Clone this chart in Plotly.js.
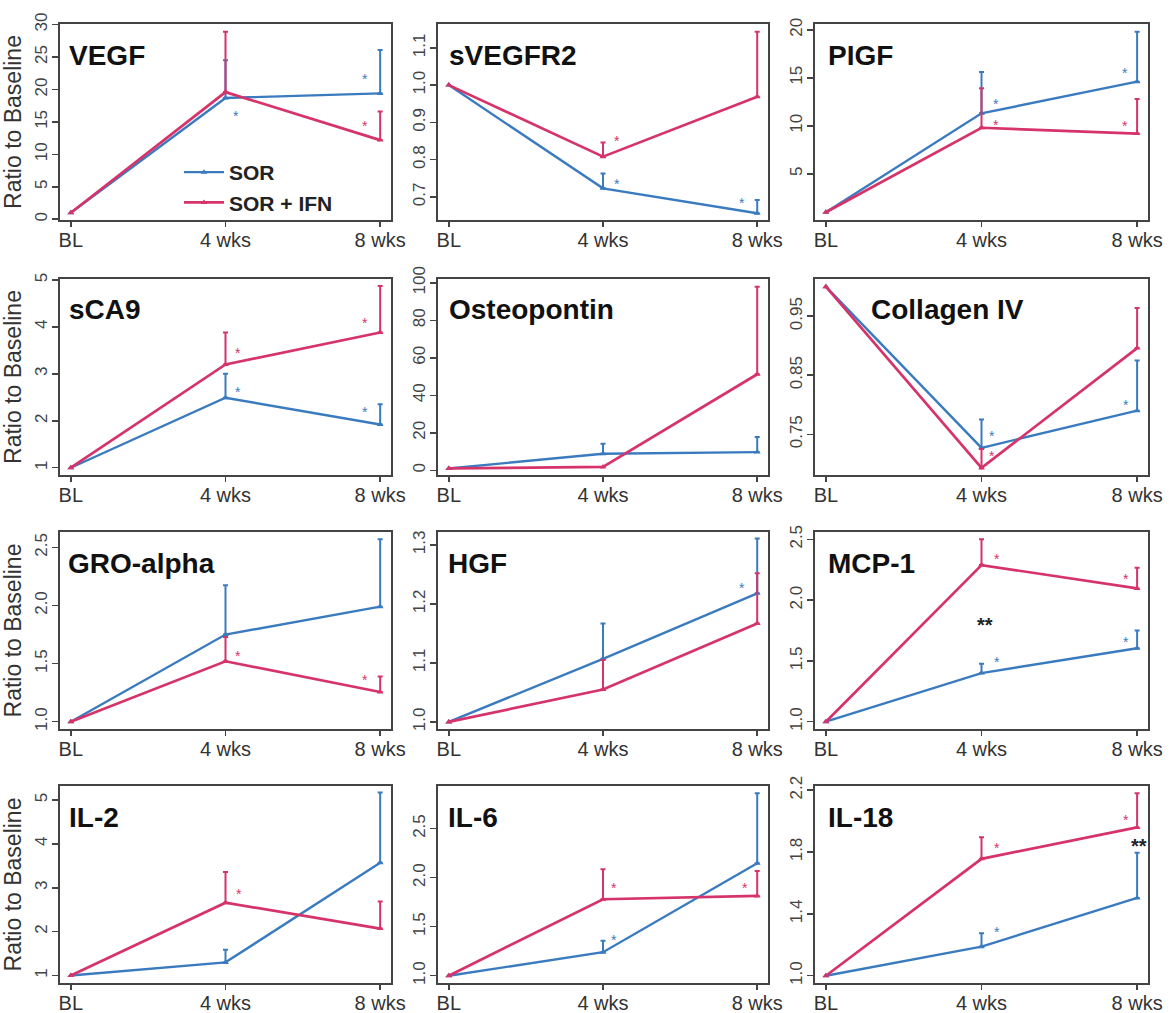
<!DOCTYPE html>
<html>
<head>
<meta charset="utf-8">
<script src="https://cdn.plot.ly/plotly-3.0.1.min.js"></script>
<style>html,body{margin:0;padding:0;background:#fff}#chart{width:1175px;height:1013px}</style>
</head>
<body>
<div id="chart"></div>
<script>
// ---------------- DATA ----------------
const timepoints = ['BL', '4 wks', '8 wks'];
const timeIndex = [0, 1, 2];
const markerNames = ['VEGF', 'sVEGFR2', 'PIGF', 'sCA9', 'Osteopontin', 'Collagen IV',
                     'GRO-alpha', 'HGF', 'MCP-1', 'IL-2', 'IL-6', 'IL-18'];
const seriesNames = ['SOR', 'SOR + IFN'];

// SOR: mean ratio to baseline
const sorMean = [
  [1, 18.7, 19.4],
  [1, 0.723, 0.656],
  [1, 11.3, 14.6],
  [1, 2.49, 1.92],
  [1, 8.8, 9.7],
  [1, 0.727, 0.79],
  [1, 1.75, 1.99],
  [1, 1.107, 1.218],
  [1, 1.40, 1.604],
  [1, 1.3, 3.57],
  [1, 1.24, 2.146],
  [1, 1.188, 1.503]
];
// SOR: upper end of error bar
const sorUpper = [
  [null, 24.5, 26.1],
  [null, 0.763, 0.692],
  [null, 15.6, 19.8],
  [null, 3.0, 2.35],
  [null, 14.1, 17.7],
  [null, 0.775, 0.875],
  [null, 2.175, 2.57],
  [null, 1.167, 1.311],
  [null, 1.476, 1.75],
  [null, 1.59, 5.17],
  [null, 1.356, 2.86],
  [null, 1.274, 1.795]
];
// SOR + IFN: mean ratio to baseline
const ifnMean = [
  [1, 19.6, 12.2],
  [1, 0.808, 0.969],
  [1, 9.8, 9.2],
  [1, 3.2, 3.88],
  [1, 1.8, 51.2],
  [1, 0.693, 0.896],
  [1, 1.52, 1.256],
  [1, 1.055, 1.167],
  [1, 2.288, 2.096],
  [1, 2.66, 2.07],
  [1, 1.78, 1.814],
  [1, 1.756, 1.959]
];
// SOR + IFN: upper end of error bar
const ifnUpper = [
  [null, 28.9, 16.6],
  [null, 0.846, 1.143],
  [null, 13.9, 12.8],
  [null, 3.88, 4.87],
  [null, null, 97.9],
  [null, 0.725, 0.964],
  [null, 1.73, 1.39],
  [null, 1.105, 1.252],
  [null, 2.50, 2.266],
  [null, 3.36, 2.69],
  [null, 2.085, 2.068],
  [null, 1.895, 2.18]
];
// significance marks: [time position, value, group (0 SOR, 1 SOR+IFN, 2 between groups)]
const sigMarks = [
  [[1.07, 16.5, 0], [1.9, 22.2, 0], [1.9, 15.0, 1]],
  [[1.09, 0.861, 1], [1.09, 0.745, 0], [1.9, 0.694, 0]],
  [[1.09, 12.65, 0], [1.09, 10.55, 1], [1.92, 15.9, 0], [1.92, 10.4, 1]],
  [[1.08, 3.52, 1], [1.08, 2.7, 0], [1.9, 4.16, 1], [1.9, 2.28, 0]],
  [],
  [[1.07, 0.753, 0], [1.07, 0.72, 1], [1.93, 0.806, 0]],
  [[1.08, 1.6, 1], [1.9, 1.39, 1]],
  [[1.9, 1.233, 0]],
  [[1.1, 2.37, 1], [1.1, 1.52, 0], [1.93, 2.206, 1], [1.93, 1.686, 0], [1.02, 1.837, 2]],
  [[1.09, 2.96, 1]],
  [[1.07, 1.94, 1], [1.92, 1.94, 1], [1.07, 1.41, 0]],
  [[1.1, 1.852, 1], [1.1, 1.306, 0], [1.93, 2.034, 1], [2.01, 1.87, 2]]
];
// y tick labels per panel
const yTickText = [
  ['0', '5', '10', '15', '20', '25', '30'],
  ['0.7', '0.8', '0.9', '1.0', '1.1'],
  ['5', '10', '15', '20'],
  ['1', '2', '3', '4', '5'],
  ['0', '20', '40', '60', '80', '100'],
  ['0.75', '0.85', '0.95'],
  ['1.0', '1.5', '2.0', '2.5'],
  ['1.0', '1.1', '1.2', '1.3'],
  ['1.0', '1.5', '2.0', '2.5'],
  ['1', '2', '3', '4', '5'],
  ['1.0', '1.5', '2.0', '2.5'],
  ['1.0', '1.4', '1.8', '2.2']
];

// ---------------- LAYOUT / STYLE ----------------
const yRanges = [[-0.12, 30.1], [0.638, 1.164], [0.2, 20.6], [0.845, 5.02], [-2.5, 102],
                 [0.681, 1.013], [0.937, 2.633], [0.988, 1.322], [0.94, 2.56],
                 [0.83, 5.32], [0.926, 2.934], [0.953, 2.227]];
const W = 1175, H = 1013;
const colPx = [[60, 391], [438, 768], [815, 1148]];
const rowPx = [[24, 220], [279, 475], [532, 729], [786, 983]];
const titleLeftPx = [7, 9, 11, 7, 9, 54, 6, 8, 11, 7, 8, 11];
const FONT = 'Liberation Sans, Arial, Helvetica, sans-serif';
const BLUE = '#3a7bbf';
const RED = '#d6336a';
const groupColors = [BLUE, RED, '#222222'];

const traces = [];
const annotations = [];
const layout = {
  width: W, height: H,
  margin: {l: 0, r: 0, t: 0, b: 0},
  paper_bgcolor: '#ffffff', plot_bgcolor: '#ffffff',
  font: {family: FONT, color: '#333'},
  showlegend: true,
  legend: {
    x: 179 / W, y: 1 - 152 / H, xanchor: 'left', yanchor: 'top',
    bgcolor: 'rgba(0,0,0,0)', borderwidth: 0,
    font: {family: FONT, size: 21, color: '#222', weight: 'bold'},
    tracegroupgap: 0, itemwidth: 40
  },
  annotations: annotations
};

function errArr(mean, upper) {
  return upper.map((u, k) => (u === null ? NaN : u - mean[k]));
}
function minusArr(upper) {
  return upper.map(u => (u === null ? NaN : 0));
}

markerNames.forEach((name, i) => {
  const n = i + 1;
  const r = Math.floor(i / 3), c = i % 3;
  const xs = n === 1 ? 'x' : 'x' + n;
  const ys = n === 1 ? 'y' : 'y' + n;
  const xa = n === 1 ? 'xaxis' : 'xaxis' + n;
  const ya = n === 1 ? 'yaxis' : 'yaxis' + n;

  const series = [
    {mean: sorMean[i], up: sorUpper[i], color: BLUE, name: seriesNames[0], w: 2.4},
    {mean: ifnMean[i], up: ifnUpper[i], color: RED, name: seriesNames[1], w: 2.7}
  ];
  series.forEach(s => {
    traces.push({
      type: 'scatter', mode: 'lines+markers',
      x: timeIndex, y: s.mean, xaxis: xs, yaxis: ys,
      name: s.name, legendgroup: s.name, showlegend: i === 0,
      line: {color: s.color, width: s.w},
      marker: {symbol: 'triangle-up', size: 6, color: s.color},
      error_y: {type: 'data', symmetric: false, array: errArr(s.mean, s.up),
                arrayminus: minusArr(s.up), color: s.color, thickness: 2, width: 2.5},
      hoverinfo: 'skip'
    });
  });

  const yvals = yTickText[i].map(parseFloat);
  layout[xa] = {
    domain: [colPx[c][0] / W, colPx[c][1] / W], anchor: ys,
    range: [-0.07, 2.07], tickvals: timeIndex, ticktext: timepoints,
    ticks: 'outside', ticklen: 5, tickwidth: 1.5, tickcolor: '#444',
    ticklabelstandoff: -4,
    showline: true, mirror: true, linecolor: '#444', linewidth: 2,
    showgrid: false, zeroline: false, fixedrange: true,
    tickfont: {family: FONT, size: 20, color: '#333'}
  };
  layout[ya] = {
    domain: [1 - rowPx[r][1] / H, 1 - rowPx[r][0] / H], anchor: xs,
    range: yRanges[i], tickvals: yvals, ticktext: yTickText[i], tickangle: -90,
    ticks: 'outside', ticklen: 6, tickwidth: 1.5, tickcolor: '#444',
    ticklabelstandoff: -2,
    showline: true, mirror: true, linecolor: '#444', linewidth: 2,
    showgrid: false, zeroline: false, fixedrange: true,
    tickfont: {family: FONT, size: 17, color: '#444'}
  };
  if (c === 0) {
    layout[ya].title = {text: 'Ratio to Baseline', standoff: 6,
                        font: {family: FONT, size: 23, color: '#333'}};
  }

  // panel label
  const wpx = colPx[c][1] - colPx[c][0];
  const hpx = rowPx[r][1] - rowPx[r][0];
  annotations.push({
    xref: xs + ' domain', yref: ys + ' domain',
    x: titleLeftPx[i] / wpx, y: 1 - 31 / hpx, xanchor: 'left', yanchor: 'middle',
    text: name, showarrow: false,
    font: {family: FONT, size: 28, color: '#111', weight: 'bold'}
  });

  // significance marks
  sigMarks[i].forEach(m => {
    annotations.push({
      xref: xs, yref: ys, x: m[0], y: m[1],
      text: m[2] === 2 ? '**' : '*', showarrow: false,
      xanchor: 'center', yanchor: 'middle', yshift: m[2] === 2 ? -5 : -4,
      font: {family: FONT, size: m[2] === 2 ? 20 : 14, color: groupColors[m[2]],
             weight: m[2] === 2 ? 'bold' : 'normal'}
    });
  });
});

Plotly.newPlot('chart', traces, layout, {staticPlot: true, displayModeBar: false});
</script>
</body>
</html>
